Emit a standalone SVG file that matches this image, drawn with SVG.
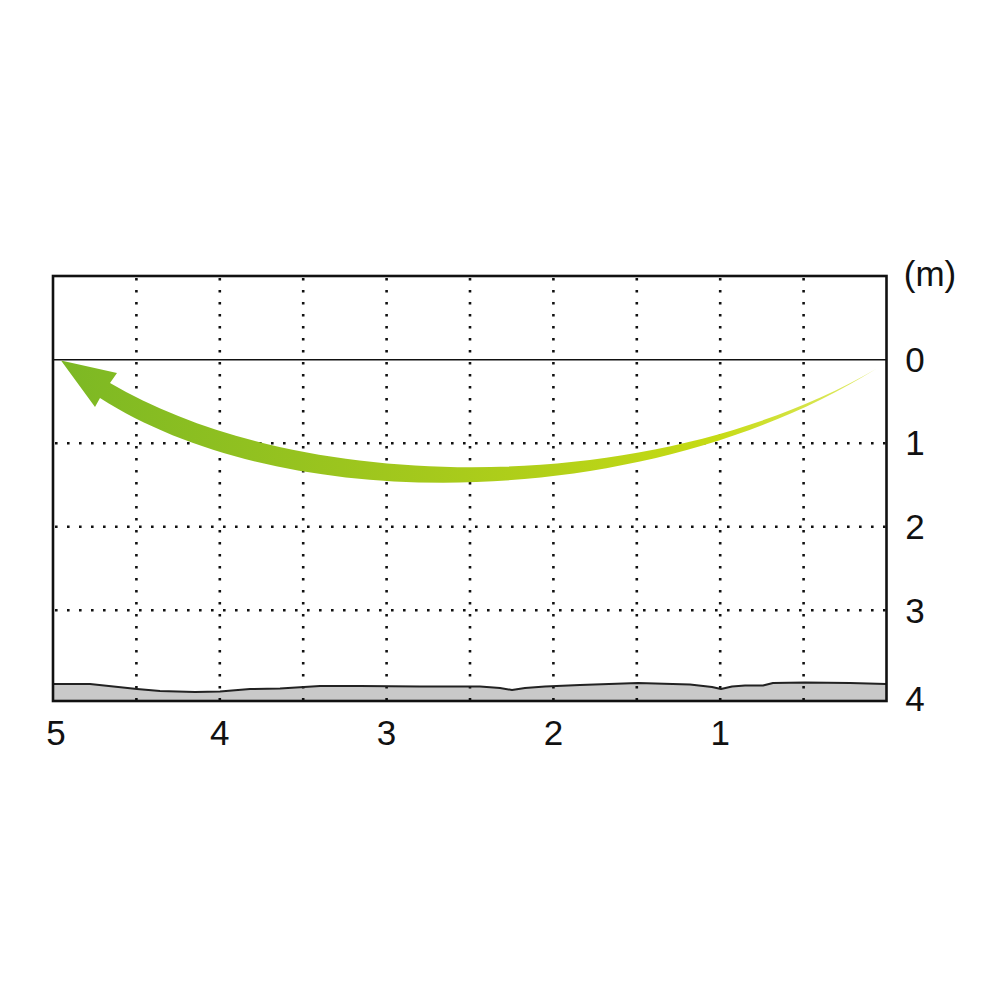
<svg xmlns="http://www.w3.org/2000/svg" width="1000" height="1000" viewBox="0 0 1000 1000">
  <defs>
    <linearGradient id="arrowGrad" x1="60" y1="0" x2="880" y2="0" gradientUnits="userSpaceOnUse">
      <stop offset="0" stop-color="#7cb824"/>
      <stop offset="0.45" stop-color="#a5c91c"/>
      <stop offset="0.8" stop-color="#c6db14"/>
      <stop offset="1" stop-color="#e2eb70"/>
    </linearGradient>
    <style>
      .grid { stroke: #111; stroke-width: 2.6; stroke-dasharray: 2.6 9.4; fill: none; }
      .frame { stroke: #111; stroke-width: 2.6; fill: none; }
      .zero { stroke: #111; stroke-width: 1.6; fill: none; }
      .ground { fill: #c9c9c9; stroke: none; }
      .groundline { fill: none; stroke: #222; stroke-width: 2; stroke-linejoin: round; }
      .lbl { font-family: "Liberation Sans", Arial, sans-serif; font-size: 35px; fill: #111; text-anchor: middle; }
    </style>
  </defs>
  <rect x="0" y="0" width="1000" height="1000" fill="#ffffff"/>

  <g id="ground">
    <path class="ground" d="M53,684 L90,684 L137,689 L160,691 L195,692 L220,691.5 L250,689 L280,688.5 L304,687 L320,686 L360,686 L420,686.5 L480,686.5 L500,688 L512,690 L525,688 L545,686.5 L580,685 L638,683 L690,684.5 L712,687 L721,689 L732,686.5 L745,685.5 L763,685.5 L773,683 L805,682.5 L850,683 L886,684 L886,701 L53,701 Z"/>
  </g>

  <g id="grid">
    <path class="grid" d="M136.4,278 V701 M219.8,278 V701 M303.2,278 V701 M386.6,278 V701 M470,278 V701 M553.4,278 V701 M636.8,278 V701 M720.2,278 V701 M803.6,278 V701"/>
    <path class="grid" d="M55,443.3 H886 M55,526.8 H886 M55,610.3 H886"/>
  </g>

  <g id="ground-line">
    <path class="groundline" d="M53,684 L90,684 L137,689 L160,691 L195,692 L220,691.5 L250,689 L280,688.5 L304,687 L320,686 L360,686 L420,686.5 L480,686.5 L500,688 L512,690 L525,688 L545,686.5 L580,685 L638,683 L690,684.5 L712,687 L721,689 L732,686.5 L745,685.5 L763,685.5 L773,683 L805,682.5 L850,683 L886,684"/>
  </g>

  <g id="frame">
    <line class="zero" x1="53" y1="359.7" x2="886.5" y2="359.7"/>
    <rect class="frame" x="53" y="276" width="833.5" height="425"/>
  </g>

  <g id="arrow">
    <path fill="url(#arrowGrad)" d="M61,360.5 L117,373 L110,383 C300,495 650,500 876,369 C650,510 290,520 100,398 L95,407 Z"/>
  </g>

  <g id="labels">
    <text class="lbl" x="930" y="286" font-size="36">(m)</text>
    <text class="lbl" x="915" y="372">0</text>
    <text class="lbl" x="915" y="455">1</text>
    <text class="lbl" x="915" y="539">2</text>
    <text class="lbl" x="915" y="623">3</text>
    <text class="lbl" x="915" y="711">4</text>
    <text class="lbl" x="56" y="745">5</text>
    <text class="lbl" x="219.8" y="745">4</text>
    <text class="lbl" x="386.6" y="745">3</text>
    <text class="lbl" x="553.4" y="745">2</text>
    <text class="lbl" x="720.2" y="745">1</text>
  </g>
</svg>
